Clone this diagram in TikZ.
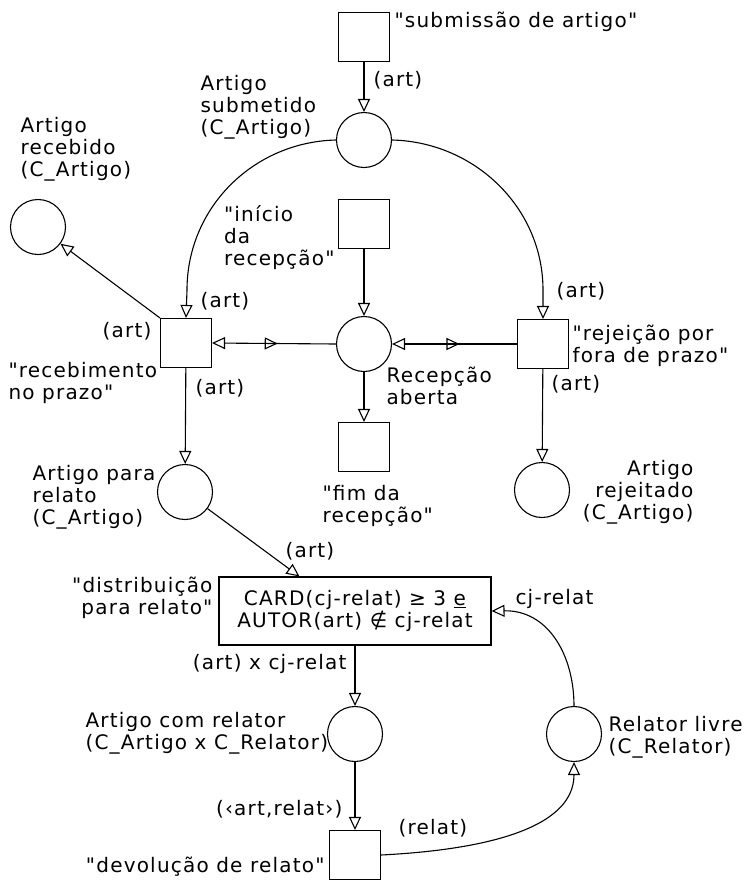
\documentclass[tikz,border=0pt]{standalone}
\usepackage{fontspec}
\setmainfont[LetterSpace=6,Ligatures=TeXOff]{DejaVu Sans}
\usetikzlibrary{arrows.meta,decorations.markings,calc}
\newcommand{\lblfont}{\fontsize{20}{22}\selectfont}
\begin{document}
\begin{tikzpicture}[x=1pt,y=-1pt,line width=1.1pt,
  place/.style={circle,draw,minimum size=55pt,inner sep=0pt},
  trans/.style={rectangle,draw,minimum width=51pt,minimum height=49pt,inner sep=0pt},
  tip/.tip={Triangle[open,length=13pt,width=12pt]},
  arc/.style={-tip},
  startarc/.style={tip-},
  midarrow/.style={postaction={decorate,decoration={markings,mark=at position #1 with {\arrow{tip}}}}},
  lbl/.style={inner sep=0pt,font=\lblfont}]
\useasboundingbox (0,0) rectangle (752,884);
\fill[white] (0,0) rectangle (752,884);
% nodes
\node[trans] (Tsub) at (364,37) {};
\node[place] (Psub) at (364,140) {};
\node[place] (Prec) at (38,227) {};
\node[trans] (Tini) at (364,224) {};
\node[trans] (Trec) at (186,343) {};
\node[place] (Pab) at (364,344) {};
\node[trans] (Trej) at (543,344) {};
\node[trans] (Tfim) at (364,447) {};
\node[place] (Prel) at (185,492) {};
\node[place] (Prej) at (542,490) {};
\node[trans,minimum width=272pt,minimum height=68pt,align=center,font=\lblfont] (Tdist) at (355,611)
  {CARD(cj-relat) ≥ 3 \underline{e}\\AUTOR(art) ∉ cj-relat};
\node[place] (Pcom) at (355,734) {};
\node[place] (Prl) at (574,734) {};
\node[trans] (Tdev) at (355,855) {};
% connectors
\draw[arc] (Tsub) -- (Psub);
\draw[arc] (Psub.west) .. controls (253,142) and (187,208) .. (187,290) -- (Trec.north);
\draw[arc] (Psub.east) .. controls (475,142) and (543,208) .. (543,290) -- (Trej.north);
\draw[arc] (Tini) -- (Pab);
\draw[arc] (Pab) -- (Tfim);
\draw[arc] (Trec.north west) -- (Prec);
\draw[arc] (Trec) -- (Prel);
\draw[arc] (Trej) -- (Prej);
\draw[startarc,midarrow=0.53] (Trec.east) -- (Pab.west);
\draw[startarc,midarrow=0.54] (Pab.east) -- (Trej.west);
\draw[arc] (Prel) -- ([xshift=81pt]Tdist.north west);
\draw[arc] (Tdist.south) -- (Pcom.north);
\draw[arc] (Pcom) -- (Tdev);
\draw[arc] (Tdev.east) .. controls (480,850) and (574,830) .. (Prl.south);
\draw[arc] (Prl.north) .. controls (574,655) and (548,610) .. (Tdist.east);
% labels
\node[lbl,anchor=base west] (l1) at (394,27) {"submissão de artigo"};
\node[lbl,anchor=base west] (l2) at (373,86) {(art)};
\node[lbl,anchor=north west,align=left] (l3) at (200,75) {Artigo\\submetido\\(C\_Artigo)};
\node[lbl,anchor=north west,align=left] (l4) at (20,117) {Artigo\\recebido\\(C\_Artigo)};
\node[lbl,anchor=north east,align=left] (l5) at (335,205) {"início\\da\\recepção"};
\node[lbl,anchor=base west] (l6) at (200,307) {(art)};
\node[lbl,anchor=base east] (l7) at (152,337) {(art)};
\node[lbl,anchor=north west,align=left] (l8) at (8,362) {"recebimento\\no prazo"};
\node[lbl,anchor=base west] (l9) at (195,394) {(art)};
\node[lbl,anchor=north west,align=left] (l10) at (386,366) {Recepção\\aberta};
\node[lbl,anchor=north west,align=left] (l11) at (572,324) {"rejeição por\\fora de prazo"};
\node[lbl,anchor=base west] (l12) at (551,390) {(art)};
\node[lbl,anchor=base west] (l13) at (556,297) {(art)};
\node[lbl,anchor=north west,align=left] (l14) at (32,465) {Artigo para\\relato\\(C\_Artigo)};
\node[lbl,anchor=north east,align=right] (l15) at (694,460) {Artigo\\rejeitado\\(C\_Artigo)};
\node[lbl,anchor=north west,align=left] (l16) at (322,485) {"fim da\\recepção"};
\node[lbl,anchor=base west] (l17) at (285,557) {(art)};
\node[lbl,anchor=north east,align=right] (l18) at (213,576) {"distribuição\\para relato"};
\node[lbl,anchor=base west] (l19) at (515,604) {cj-relat};
\node[lbl,anchor=base east] (l20) at (347,669) {(art) x cj-relat};
\node[lbl,anchor=north west,align=left] (l21) at (85,712) {Artigo com relator\\(C\_Artigo x C\_Relator)};
\node[lbl,anchor=north west,align=left] (l22) at (608,716) {Relator livre\\(C\_Relator)};
\node[lbl,anchor=base east] (l23) at (343,815) {(‹art,relat›)};
\node[lbl,anchor=base west] (l24) at (398,834) {(relat)};
\node[lbl,anchor=base east] (l25) at (325,872) {"devolução de relato"};
\end{tikzpicture}
\end{document}
